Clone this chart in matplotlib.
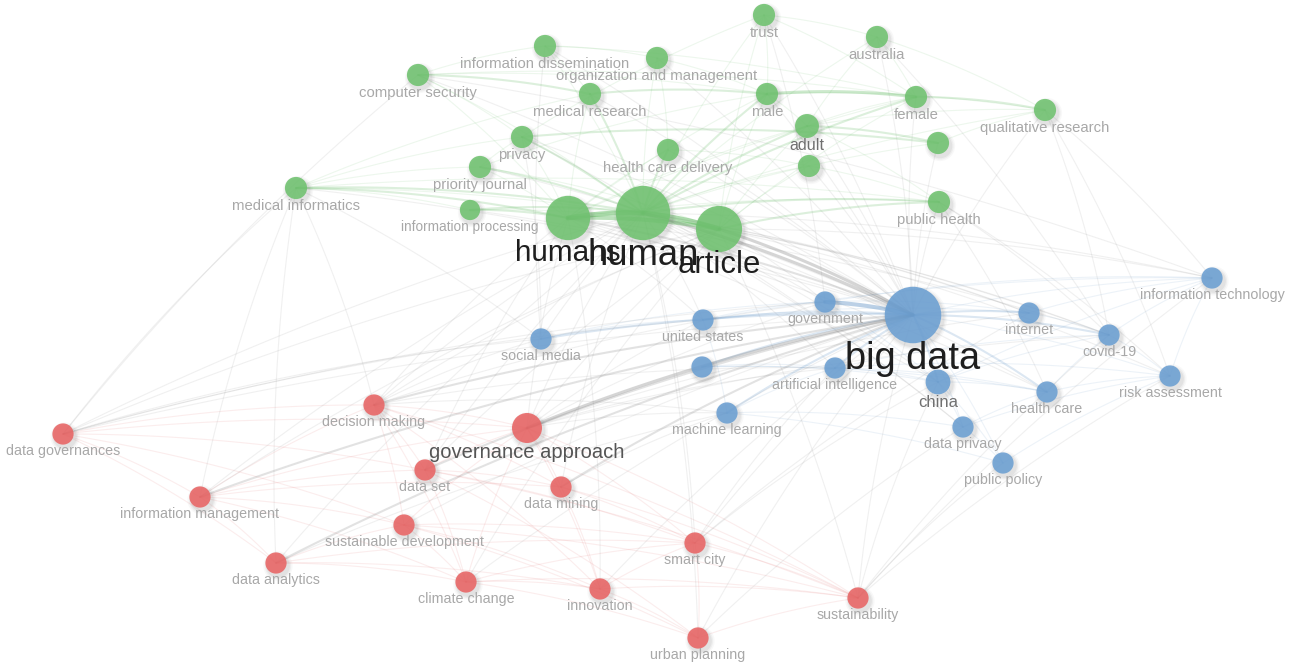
import numpy as np
import matplotlib.pyplot as plt
from matplotlib.collections import LineCollection
from matplotlib.patches import Circle
from matplotlib.colors import to_rgba

plt.rcParams['font.family'] = ['Liberation Sans', 'DejaVu Sans']

# keyword clusters: map position (px), occurrences
green_terms = ["trust", "australia", "information dissemination", "organization and management",
               "computer security", "medical research", "male", "female", "qualitative research",
               "adult", "procedures", "privacy", "health care delivery", "patient", "priority journal",
               "medical informatics", "public health", "information processing", "humans", "human", "article"]
green_x = [764, 877, 545, 657, 418, 590, 767, 916, 1045, 807, 938, 522, 668, 809, 480, 296, 939, 470, 568, 643, 719]
green_y = [15, 37, 46, 58, 75, 94, 94, 97, 110, 126, 143, 137, 150, 166, 167, 188, 202, 210, 218, 213, 229]
green_occ = [12, 12, 12, 12, 12, 12, 12, 12, 12, 14, 12, 12, 12, 12, 12, 12, 12, 10, 48, 72, 52]

blue_terms = ["information technology", "government", "big data", "internet", "covid-19", "united states",
              "social media", "artificial intelligence", "security", "china", "risk assessment",
              "health care", "machine learning", "data privacy", "public policy"]
blue_x = [1212, 825, 913, 1029, 1109, 703, 541, 835, 702, 938, 1170, 1047, 727, 963, 1003]
blue_y = [278, 302, 315, 313, 335, 320, 339, 368, 367, 382, 376, 392, 413, 427, 463]
blue_occ = [11, 11, 78, 11, 11, 11, 11, 11, 11, 15, 11, 11, 11, 11, 11]

red_terms = ["data governances", "decision making", "governance approach", "data set", "data mining",
             "information management", "sustainable development", "smart city", "data analytics",
             "climate change", "innovation", "sustainability", "urban planning"]
red_x = [63, 374, 527, 425, 561, 200, 404, 695, 276, 466, 600, 858, 698]
red_y = [434, 405, 428, 470, 487, 497, 525, 543, 563, 582, 589, 598, 638]
red_occ = [11, 11, 22, 11, 11, 11, 11, 11, 11, 11, 11, 11, 11]

# terms whose labels are suppressed on the map
hidden = {"procedures", "patient", "security"}

# co-occurrence links (term, term, strength)
links = [
    ("humans", "human", 5), ("human", "article", 5), ("humans", "article", 4),
    ("human", "information processing", 2), ("humans", "information processing", 2),
    ("human", "priority journal", 2), ("humans", "priority journal", 1), ("human", "privacy", 2),
    ("human", "medical research", 2), ("human", "computer security", 1), ("human", "information dissemination", 1),
    ("human", "organization and management", 1), ("human", "trust", 1), ("human", "male", 2), ("human", "female", 2),
    ("human", "adult", 2), ("human", "procedures", 1), ("human", "patient", 1), ("human", "public health", 2),
    ("human", "health care delivery", 2), ("human", "medical informatics", 2), ("human", "qualitative research", 1),
    ("human", "australia", 1), ("humans", "medical informatics", 2), ("humans", "computer security", 1),
    ("humans", "privacy", 1), ("humans", "medical research", 1), ("humans", "male", 1), ("humans", "female", 1),
    ("humans", "adult", 1), ("humans", "health care delivery", 1), ("humans", "public health", 1),
    ("article", "public health", 2), ("article", "adult", 1), ("article", "male", 1), ("article", "female", 1),
    ("article", "patient", 1), ("article", "medical informatics", 1), ("article", "information processing", 1),
    ("article", "trust", 1), ("article", "priority journal", 1),
    ("male", "female", 3), ("female", "qualitative research", 2), ("medical research", "male", 2),
    ("adult", "procedures", 2), ("privacy", "procedures", 2), ("health care delivery", "patient", 1),
    ("computer security", "medical research", 2), ("computer security", "privacy", 1),
    ("computer security", "information dissemination", 1), ("computer security", "male", 1),
    ("computer security", "female", 1), ("medical informatics", "information processing", 1),
    ("medical informatics", "priority journal", 1), ("medical informatics", "privacy", 1),
    ("medical informatics", "public health", 1), ("medical informatics", "medical research", 1),
    ("trust", "australia", 1), ("trust", "male", 1), ("trust", "privacy", 1), ("trust", "female", 1),
    ("australia", "female", 1), ("australia", "adult", 1), ("australia", "qualitative research", 1),
    ("qualitative research", "adult", 1), ("qualitative research", "male", 1), ("qualitative research", "procedures", 1),
    ("information dissemination", "organization and management", 1), ("information dissemination", "medical research", 1),
    ("information dissemination", "female", 1), ("organization and management", "male", 1),
    ("organization and management", "health care delivery", 1), ("adult", "male", 1), ("adult", "female", 1),
    ("public health", "adult", 1), ("public health", "patient", 1), ("priority journal", "male", 1),
    ("priority journal", "privacy", 1),

    ("big data", "government", 4), ("big data", "internet", 2), ("big data", "covid-19", 2),
    ("big data", "united states", 2), ("big data", "social media", 2), ("big data", "artificial intelligence", 2),
    ("big data", "security", 2), ("big data", "china", 2), ("big data", "health care", 2),
    ("big data", "machine learning", 2), ("big data", "data privacy", 1), ("big data", "public policy", 1),
    ("big data", "information technology", 1), ("big data", "risk assessment", 1),
    ("information technology", "internet", 1), ("information technology", "covid-19", 1),
    ("information technology", "government", 1), ("information technology", "united states", 1),
    ("information technology", "china", 1), ("information technology", "risk assessment", 1),
    ("covid-19", "internet", 1), ("covid-19", "risk assessment", 1), ("covid-19", "health care", 1),
    ("covid-19", "china", 1), ("covid-19", "artificial intelligence", 1), ("government", "united states", 1),
    ("government", "internet", 1), ("government", "social media", 1), ("government", "china", 1),
    ("united states", "social media", 1), ("united states", "internet", 1), ("united states", "machine learning", 1),
    ("artificial intelligence", "machine learning", 1), ("artificial intelligence", "security", 1),
    ("artificial intelligence", "china", 1), ("artificial intelligence", "health care", 1),
    ("artificial intelligence", "risk assessment", 1), ("security", "health care", 1), ("security", "china", 1),
    ("china", "data privacy", 1), ("china", "public policy", 1), ("china", "health care", 1),
    ("health care", "risk assessment", 1), ("health care", "data privacy", 1), ("machine learning", "data privacy", 1),
    ("machine learning", "public policy", 1), ("data privacy", "public policy", 1),
    ("public policy", "risk assessment", 1), ("risk assessment", "data privacy", 1),

    ("governance approach", "decision making", 1), ("governance approach", "data set", 1),
    ("governance approach", "data mining", 1), ("governance approach", "information management", 1),
    ("governance approach", "data governances", 1), ("governance approach", "sustainable development", 1),
    ("governance approach", "smart city", 1), ("governance approach", "innovation", 1),
    ("governance approach", "sustainability", 1), ("governance approach", "climate change", 1),
    ("data governances", "decision making", 1), ("data governances", "information management", 1),
    ("data governances", "data analytics", 1), ("data governances", "data set", 1),
    ("data governances", "sustainable development", 1), ("decision making", "data set", 1),
    ("decision making", "data mining", 1), ("decision making", "sustainable development", 1),
    ("decision making", "climate change", 1), ("decision making", "innovation", 1),
    ("decision making", "information management", 1), ("decision making", "sustainability", 1),
    ("information management", "data analytics", 1), ("information management", "data set", 1),
    ("information management", "sustainable development", 1), ("information management", "climate change", 1),
    ("information management", "data mining", 1), ("data set", "data mining", 1), ("data set", "climate change", 1),
    ("data set", "smart city", 1), ("data set", "sustainability", 1), ("data set", "urban planning", 1),
    ("data mining", "smart city", 1), ("data mining", "innovation", 1), ("data mining", "sustainability", 1),
    ("sustainable development", "climate change", 1), ("sustainable development", "innovation", 1),
    ("sustainable development", "smart city", 1), ("sustainable development", "sustainability", 1),
    ("sustainable development", "urban planning", 1), ("data analytics", "climate change", 1),
    ("data analytics", "sustainable development", 1), ("data analytics", "smart city", 1),
    ("data analytics", "innovation", 1), ("climate change", "innovation", 1), ("climate change", "sustainability", 1),
    ("climate change", "urban planning", 1), ("climate change", "smart city", 1), ("innovation", "sustainability", 1),
    ("innovation", "urban planning", 1), ("innovation", "smart city", 1), ("smart city", "urban planning", 1),
    ("smart city", "sustainability", 1), ("urban planning", "sustainability", 1),

    ("big data", "governance approach", 3), ("big data", "decision making", 2), ("big data", "data set", 2),
    ("big data", "data mining", 2), ("big data", "information management", 2), ("big data", "data governances", 1),
    ("big data", "data analytics", 2), ("big data", "sustainable development", 1), ("big data", "smart city", 1),
    ("big data", "climate change", 1), ("big data", "innovation", 1), ("big data", "sustainability", 1),
    ("big data", "urban planning", 1), ("big data", "human", 3), ("big data", "article", 3), ("big data", "humans", 2),
    ("big data", "privacy", 1), ("big data", "medical informatics", 1), ("big data", "information processing", 1),
    ("big data", "priority journal", 1), ("big data", "public health", 1), ("big data", "adult", 1),
    ("big data", "male", 1), ("big data", "female", 1), ("big data", "qualitative research", 1), ("big data", "trust", 1),
    ("big data", "australia", 1), ("big data", "computer security", 1), ("big data", "health care delivery", 1),
    ("big data", "medical research", 1), ("big data", "patient", 1), ("big data", "procedures", 1),
    ("big data", "organization and management", 1), ("big data", "information dissemination", 1),
    ("human", "government", 1), ("human", "united states", 1), ("human", "china", 1), ("human", "covid-19", 1),
    ("human", "health care", 1), ("human", "internet", 1), ("human", "information technology", 1),
    ("human", "artificial intelligence", 1), ("human", "social media", 1), ("human", "data privacy", 1),
    ("humans", "united states", 1), ("humans", "covid-19", 1), ("humans", "health care", 1), ("humans", "china", 1),
    ("article", "government", 1), ("article", "internet", 1), ("article", "covid-19", 1),
    ("article", "information technology", 1), ("article", "risk assessment", 1),
    ("human", "decision making", 1), ("human", "governance approach", 1), ("human", "data set", 1),
    ("human", "data governances", 1), ("human", "information management", 1), ("human", "data mining", 1),
    ("article", "governance approach", 1), ("article", "data set", 1),
    ("governance approach", "machine learning", 1), ("governance approach", "artificial intelligence", 1),
    ("governance approach", "internet", 1), ("governance approach", "government", 1),
    ("governance approach", "united states", 1), ("governance approach", "covid-19", 1),
    ("decision making", "artificial intelligence", 1), ("decision making", "government", 1),
    ("decision making", "machine learning", 1), ("sustainability", "information technology", 1),
    ("sustainability", "risk assessment", 1), ("smart city", "internet", 1), ("smart city", "artificial intelligence", 1),
    ("urban planning", "data privacy", 1), ("data mining", "machine learning", 1), ("data analytics", "machine learning", 1),
    ("data governances", "medical informatics", 1), ("medical informatics", "decision making", 1),
    ("medical informatics", "information management", 1), ("computer security", "information technology", 1),
    ("qualitative research", "information technology", 1), ("qualitative research", "risk assessment", 1),
    ("qualitative research", "covid-19", 1), ("public health", "covid-19", 1), ("public health", "health care", 1),
    ("public health", "risk assessment", 1), ("australia", "covid-19", 1), ("trust", "government", 1),
    ("privacy", "data privacy", 1), ("privacy", "social media", 1), ("information dissemination", "social media", 1),
    ("social media", "data governances", 1), ("social media", "decision making", 1), ("china", "sustainability", 1),
    ("china", "smart city", 1), ("public policy", "sustainability", 1), ("covid-19", "sustainability", 1),
    ("data governances", "article", 1), ("data governances", "government", 1), ("data governances", "united states", 1),
    ("information management", "article", 1), ("data analytics", "human", 1), ("decision making", "humans", 1),
    ("decision making", "article", 1), ("climate change", "article", 1), ("innovation", "humans", 1),
    ("data set", "humans", 1), ("governance approach", "humans", 1), ("smart city", "human", 1),
    ("sustainability", "article", 1), ("urban planning", "human", 1), ("medical informatics", "data analytics", 1),
    ("medical informatics", "social media", 1), ("data governances", "computer security", 1),
]

palette = {"green": "#6fc26f", "blue": "#6b9fd2", "red": "#e86464"}
edge_tint = {"green": "#5cb85c", "blue": "#5a8fc4", "red": "#e05c5c"}

nodes = {}
for name, xs, ys, occ, terms in [("green", green_x, green_y, green_occ, green_terms),
                                 ("blue", blue_x, blue_y, blue_occ, blue_terms),
                                 ("red", red_x, red_y, red_occ, red_terms)]:
    for t, x, y, o in zip(terms, xs, ys, occ):
        nodes[t] = (x, y, o, name)

fig = plt.figure(figsize=(12.99, 6.66), dpi=100)
ax = fig.add_axes([0, 0, 1, 1])
ax.set_xlim(0, 1299)
ax.set_ylim(666, 0)
ax.set_aspect('equal')
ax.axis('off')


def curve(p0, p1, bend=0.05, n=40):
    p0, p1 = np.asarray(p0, float), np.asarray(p1, float)
    d = p1 - p0
    ctrl = (p0 + p1) / 2 + bend * np.array([d[1], -d[0]])
    t = np.linspace(0, 1, n)[:, None]
    return (1 - t) ** 2 * p0 + 2 * (1 - t) * t * ctrl + t ** 2 * p1


# links: weak ones first, strong ones on top
for w in sorted({l[2] for l in links}):
    segs, cols, widths = [], [], []
    for a, b, s in links:
        if s != w:
            continue
        xa, ya, _, ca = nodes[a]
        xb, yb, _, cb = nodes[b]
        if xa > xb:
            xa, ya, xb, yb = xb, yb, xa, ya
        segs.append(curve((xa, ya), (xb, yb)))
        rgba = list(to_rgba(edge_tint[ca] if ca == cb else "#7a7a7a"))
        rgba[3] = min(0.11 + 0.1 * (s - 1), 0.6)
        cols.append(rgba)
        widths.append(0.8 + 0.7 * (s - 1))
    ax.add_collection(LineCollection(segs, colors=cols, linewidths=widths, capstyle='round', zorder=1))

# nodes with soft shadow
for t, (x, y, o, c) in nodes.items():
    r = 3.2 * np.sqrt(o)
    for k, a in [(4, 0.04), (2.5, 0.06), (1.2, 0.08)]:
        ax.add_patch(Circle((x + 2, y + 3), r + k, color="#555555", alpha=a, lw=0, zorder=2))
    ax.add_patch(Circle((x, y), r, color=palette[c], alpha=0.88, lw=0, zorder=3))

# labels under the nodes
for t, (x, y, o, c) in nodes.items():
    if t in hidden:
        continue
    r = 3.2 * np.sqrt(o)
    fpx = 4.3 * np.sqrt(o)
    if fpx > 25:
        col = "#1e1e1e"
    elif fpx > 18:
        col = "#555555"
    elif fpx > 15.5:
        col = "#707070"
    else:
        col = "#a8a8a8"
    ax.text(x, y + r + 0.4 * fpx + 1, t, ha='center', va='center', fontsize=fpx * 0.72,
            color=col, zorder=4)

fig.savefig("out.png", dpi=100, facecolor="white")
